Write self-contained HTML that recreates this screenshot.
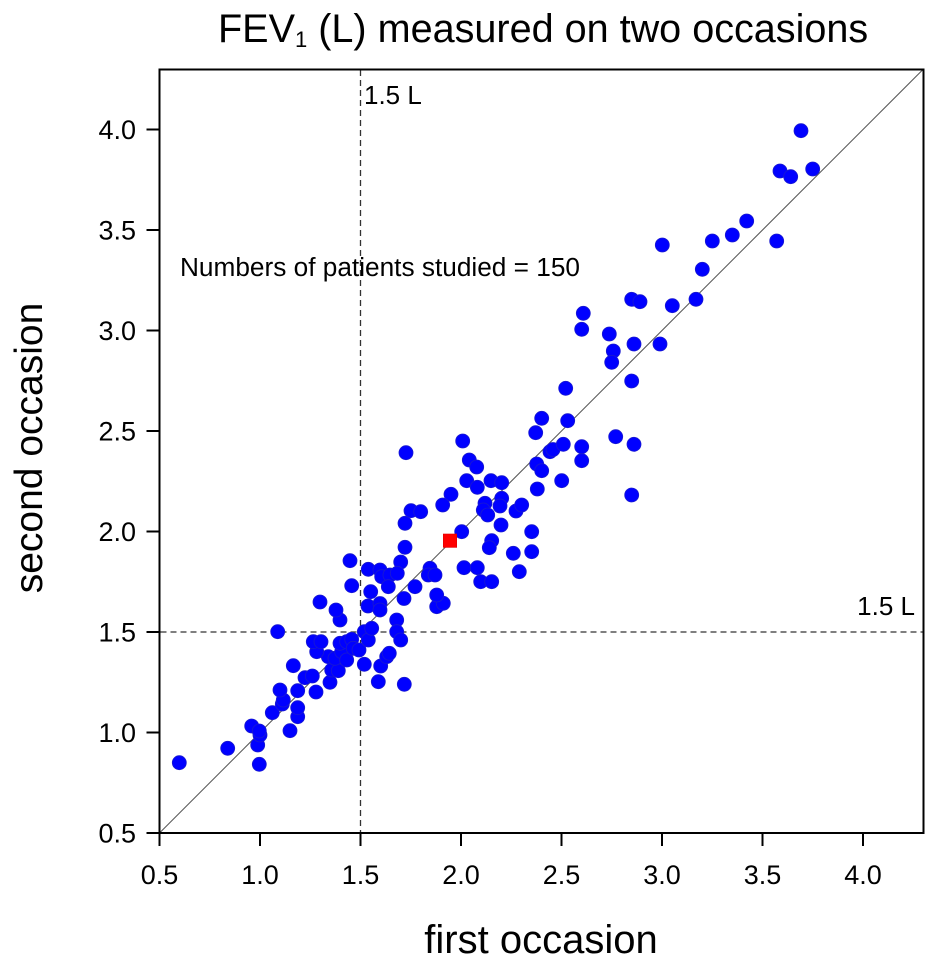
<!DOCTYPE html>
<html>
<head>
<meta charset="utf-8">
<style>
  html, body { margin: 0; padding: 0; background: #ffffff; }
  svg { display: block; }
  text { font-family: "Liberation Sans", Arial, sans-serif; fill: #000; }
</style>
</head>
<body>
<svg width="940" height="966" viewBox="0 0 940 966" xmlns="http://www.w3.org/2000/svg">
  <rect x="0" y="0" width="940" height="966" fill="#ffffff"/>

  <text x="218" y="42" font-size="39.6">FEV<tspan font-size="22" dy="5">1</tspan><tspan font-size="39.6" dy="-5"> (L) measured on two occasions</tspan></text>

  <line x1="360.5" y1="70" x2="360.5" y2="832" stroke="#333" stroke-width="1.3" stroke-dasharray="6,4"/>
  <line x1="160.5" y1="632" x2="923" y2="632" stroke="#333" stroke-width="1.3" stroke-dasharray="6,4"/>
  <line x1="159.5" y1="833" x2="923.5" y2="69" stroke="#555" stroke-width="1"/>

  <text x="364" y="104" font-size="26">1.5 L</text>
  <text x="915" y="615" font-size="26" text-anchor="end">1.5 L</text>
  <text x="180" y="276" font-size="25.5" textLength="400" lengthAdjust="spacingAndGlyphs">Numbers of patients studied = 150</text>

  <g fill="#0000ff" stroke="#1a1ad0" stroke-width="0.8">
    <circle cx="179.3" cy="762.7" r="7"/>
    <circle cx="227.7" cy="748.3" r="7"/>
    <circle cx="259.3" cy="764.3" r="7"/>
    <circle cx="257.7" cy="745" r="7"/>
    <circle cx="260" cy="735" r="7"/>
    <circle cx="251.7" cy="726" r="7"/>
    <circle cx="259.3" cy="731" r="7"/>
    <circle cx="290" cy="730.7" r="7"/>
    <circle cx="272.3" cy="712.7" r="7"/>
    <circle cx="282.3" cy="704" r="7"/>
    <circle cx="283.3" cy="700" r="7"/>
    <circle cx="280" cy="690" r="7"/>
    <circle cx="297.7" cy="716.7" r="7"/>
    <circle cx="297.7" cy="707.7" r="7"/>
    <circle cx="297.7" cy="690.7" r="7"/>
    <circle cx="316" cy="692" r="7"/>
    <circle cx="293.3" cy="665.7" r="7"/>
    <circle cx="305" cy="677.7" r="7"/>
    <circle cx="312.3" cy="676" r="7"/>
    <circle cx="330" cy="682.3" r="7"/>
    <circle cx="331.7" cy="670" r="7"/>
    <circle cx="338.3" cy="670.7" r="7"/>
    <circle cx="328.3" cy="656.7" r="7"/>
    <circle cx="316.7" cy="651.7" r="7"/>
    <circle cx="313.3" cy="641.7" r="7"/>
    <circle cx="321" cy="641.7" r="7"/>
    <circle cx="335" cy="658.3" r="7"/>
    <circle cx="341.7" cy="651.7" r="7"/>
    <circle cx="346.7" cy="660" r="7"/>
    <circle cx="340" cy="643.3" r="7"/>
    <circle cx="346.7" cy="641.7" r="7"/>
    <circle cx="351.7" cy="639.3" r="7"/>
    <circle cx="353.3" cy="648.3" r="7"/>
    <circle cx="359" cy="650" r="7"/>
    <circle cx="364.3" cy="664.3" r="7"/>
    <circle cx="364.3" cy="631.7" r="7"/>
    <circle cx="368.3" cy="640" r="7"/>
    <circle cx="371.7" cy="628.3" r="7"/>
    <circle cx="378.3" cy="681.7" r="7"/>
    <circle cx="380.7" cy="666" r="7"/>
    <circle cx="386.7" cy="656.7" r="7"/>
    <circle cx="389.3" cy="653.3" r="7"/>
    <circle cx="404.3" cy="684.3" r="7"/>
    <circle cx="396.7" cy="620" r="7"/>
    <circle cx="396.7" cy="631.7" r="7"/>
    <circle cx="400.7" cy="640" r="7"/>
    <circle cx="277.7" cy="631.7" r="7"/>
    <circle cx="340" cy="620" r="7"/>
    <circle cx="320" cy="602" r="7"/>
    <circle cx="336" cy="610" r="7"/>
    <circle cx="368" cy="606" r="7"/>
    <circle cx="380" cy="603.5" r="7"/>
    <circle cx="380" cy="610" r="7"/>
    <circle cx="404" cy="598.5" r="7"/>
    <circle cx="436.7" cy="606.7" r="7"/>
    <circle cx="443.3" cy="603.3" r="7"/>
    <circle cx="406" cy="452.7" r="7"/>
    <circle cx="451" cy="494.3" r="7"/>
    <circle cx="442.7" cy="505" r="7"/>
    <circle cx="411" cy="510.7" r="7"/>
    <circle cx="420.7" cy="511.7" r="7"/>
    <circle cx="405" cy="523.3" r="7"/>
    <circle cx="405" cy="547.3" r="7"/>
    <circle cx="350" cy="560.7" r="7"/>
    <circle cx="400.7" cy="562" r="7"/>
    <circle cx="368.3" cy="569.3" r="7"/>
    <circle cx="380" cy="570" r="7"/>
    <circle cx="381.7" cy="576.7" r="7"/>
    <circle cx="390" cy="575" r="7"/>
    <circle cx="397.3" cy="573.3" r="7"/>
    <circle cx="388.3" cy="586.7" r="7"/>
    <circle cx="430" cy="568.3" r="7"/>
    <circle cx="428.3" cy="575" r="7"/>
    <circle cx="435" cy="575" r="7"/>
    <circle cx="415" cy="586.7" r="7"/>
    <circle cx="351.7" cy="585.7" r="7"/>
    <circle cx="370.7" cy="591.7" r="7"/>
    <circle cx="436.7" cy="595" r="7"/>
    <circle cx="462.7" cy="441" r="7"/>
    <circle cx="469.3" cy="460" r="7"/>
    <circle cx="476.7" cy="467" r="7"/>
    <circle cx="466.7" cy="480.7" r="7"/>
    <circle cx="477.3" cy="487.3" r="7"/>
    <circle cx="461.7" cy="531.7" r="7"/>
    <circle cx="464" cy="567.7" r="7"/>
    <circle cx="477.3" cy="567.7" r="7"/>
    <circle cx="480.7" cy="581.7" r="7"/>
    <circle cx="491.7" cy="581.7" r="7"/>
    <circle cx="541.7" cy="418.3" r="7"/>
    <circle cx="535.7" cy="432.7" r="7"/>
    <circle cx="550" cy="451.7" r="7"/>
    <circle cx="553" cy="449.5" r="7"/>
    <circle cx="536.7" cy="464" r="7"/>
    <circle cx="541.7" cy="470.7" r="7"/>
    <circle cx="537.3" cy="489" r="7"/>
    <circle cx="491" cy="480.7" r="7"/>
    <circle cx="501.7" cy="482.7" r="7"/>
    <circle cx="501.7" cy="498.3" r="7"/>
    <circle cx="500" cy="506" r="7"/>
    <circle cx="485" cy="503.3" r="7"/>
    <circle cx="483.3" cy="510" r="7"/>
    <circle cx="487.7" cy="515" r="7"/>
    <circle cx="516" cy="511" r="7"/>
    <circle cx="521.7" cy="505" r="7"/>
    <circle cx="501" cy="525" r="7"/>
    <circle cx="531.7" cy="531.7" r="7"/>
    <circle cx="491.7" cy="540.7" r="7"/>
    <circle cx="489.3" cy="547.7" r="7"/>
    <circle cx="513.3" cy="553.3" r="7"/>
    <circle cx="531.7" cy="551.7" r="7"/>
    <circle cx="519.3" cy="571.7" r="7"/>
    <circle cx="565.7" cy="388.3" r="7"/>
    <circle cx="631.7" cy="381" r="7"/>
    <circle cx="567.7" cy="420.7" r="7"/>
    <circle cx="615.7" cy="436.7" r="7"/>
    <circle cx="634" cy="444.3" r="7"/>
    <circle cx="563.3" cy="444.3" r="7"/>
    <circle cx="581.7" cy="446.7" r="7"/>
    <circle cx="581.7" cy="460.7" r="7"/>
    <circle cx="561.7" cy="480.7" r="7"/>
    <circle cx="631.7" cy="495" r="7"/>
    <circle cx="801" cy="130.7" r="7"/>
    <circle cx="780" cy="171" r="7"/>
    <circle cx="790.7" cy="176.7" r="7"/>
    <circle cx="812.7" cy="169" r="7"/>
    <circle cx="746.7" cy="221" r="7"/>
    <circle cx="732.3" cy="235" r="7"/>
    <circle cx="712.3" cy="241" r="7"/>
    <circle cx="776.7" cy="241" r="7"/>
    <circle cx="662.3" cy="245" r="7"/>
    <circle cx="702.3" cy="269.3" r="7"/>
    <circle cx="696" cy="299.3" r="7"/>
    <circle cx="672.3" cy="305.7" r="7"/>
    <circle cx="631.7" cy="299.3" r="7"/>
    <circle cx="640" cy="301.7" r="7"/>
    <circle cx="583.3" cy="313.3" r="7"/>
    <circle cx="581.7" cy="329.3" r="7"/>
    <circle cx="609.3" cy="334" r="7"/>
    <circle cx="634" cy="344" r="7"/>
    <circle cx="660" cy="344" r="7"/>
    <circle cx="613.3" cy="351" r="7"/>
    <circle cx="611.7" cy="362.3" r="7"/>
  </g>

  <rect x="443.3" y="534" width="13.4" height="13.4" fill="#ff0000" stroke="#e00000" stroke-width="0.6"/>

  <rect x="159.5" y="69.5" width="764" height="763.5" fill="none" stroke="#000" stroke-width="2"/>

  <g stroke="#000" stroke-width="2">
    <line x1="159.5" y1="833" x2="159.5" y2="846"/>
    <line x1="260" y1="833" x2="260" y2="846"/>
    <line x1="360.5" y1="833" x2="360.5" y2="846"/>
    <line x1="461" y1="833" x2="461" y2="846"/>
    <line x1="561.5" y1="833" x2="561.5" y2="846"/>
    <line x1="662" y1="833" x2="662" y2="846"/>
    <line x1="762.5" y1="833" x2="762.5" y2="846"/>
    <line x1="863" y1="833" x2="863" y2="846"/>
    <line x1="146.5" y1="833" x2="159.5" y2="833"/>
    <line x1="146.5" y1="732.5" x2="159.5" y2="732.5"/>
    <line x1="146.5" y1="632" x2="159.5" y2="632"/>
    <line x1="146.5" y1="531.5" x2="159.5" y2="531.5"/>
    <line x1="146.5" y1="431" x2="159.5" y2="431"/>
    <line x1="146.5" y1="330.5" x2="159.5" y2="330.5"/>
    <line x1="146.5" y1="230" x2="159.5" y2="230"/>
    <line x1="146.5" y1="129.5" x2="159.5" y2="129.5"/>
  </g>

  <g font-size="27" text-anchor="middle">
    <text x="159.5" y="884">0.5</text>
    <text x="260" y="884">1.0</text>
    <text x="360.5" y="884">1.5</text>
    <text x="461" y="884">2.0</text>
    <text x="561.5" y="884">2.5</text>
    <text x="662" y="884">3.0</text>
    <text x="762.5" y="884">3.5</text>
    <text x="863" y="884">4.0</text>
  </g>
  <g font-size="27" text-anchor="end">
    <text x="136" y="842.5">0.5</text>
    <text x="136" y="742">1.0</text>
    <text x="136" y="641.5">1.5</text>
    <text x="136" y="541">2.0</text>
    <text x="136" y="440.5">2.5</text>
    <text x="136" y="340">3.0</text>
    <text x="136" y="239.5">3.5</text>
    <text x="136" y="139">4.0</text>
  </g>

  <text x="541" y="953" font-size="40" text-anchor="middle">first occasion</text>
  <text transform="translate(42,448) rotate(-90)" font-size="39" text-anchor="middle">second occasion</text>
</svg>
</body>
</html>
